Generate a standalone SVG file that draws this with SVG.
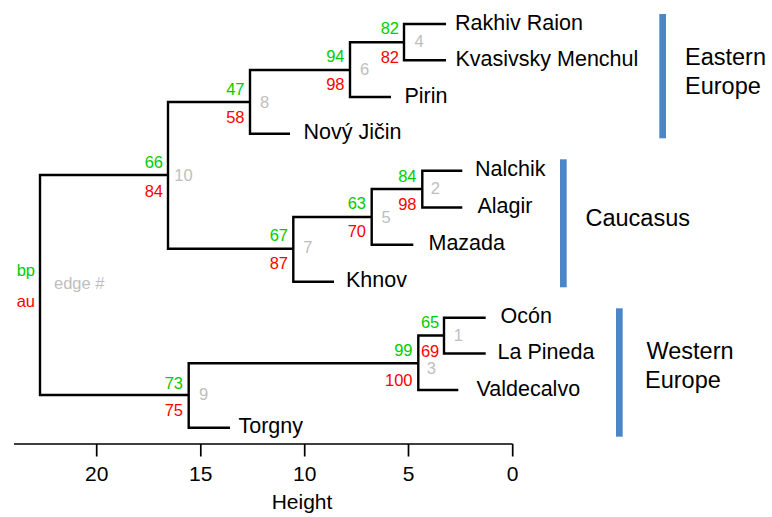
<svg xmlns="http://www.w3.org/2000/svg" width="772" height="517" viewBox="0 0 772 517">
<style>
text{font-family:"Liberation Sans",Arial,Helvetica,sans-serif}
.leaf{font-size:21.5px;fill:#000}
.grp{font-size:23.5px;fill:#000}
.bp{font-size:16.5px;fill:#00cd00;text-anchor:end}
.au{font-size:16.5px;fill:#ff0000;text-anchor:end}
.eg{font-size:16.5px;fill:#bebebe;text-anchor:middle}
.br{fill:none;stroke:#000;stroke-width:2.4;stroke-linejoin:miter;stroke-linecap:butt}
.ax{fill:none;stroke:#000;stroke-width:1.7}
.tk{font-size:21px;fill:#000;text-anchor:middle}
.bar{fill:#4b86c6}
</style>
<rect width="772" height="517" fill="#fff"/>
<g id="connectors">
<path class="br" d="M168,175 H40 V395 H188.7"/>
<path class="br" d="M250,102 H168 V248.7 H293.3"/>
<path class="br" d="M350,70 H250 V133.7 H290"/>
<path class="br" d="M404,42.2 H350 V97 H391"/>
<path class="br" d="M446,24 H404 V60.3 H446"/>
<path class="br" d="M371.7,217 H293.3 V281.7 H334"/>
<path class="br" d="M422.3,189 H371.7 V244.7 H413.3"/>
<path class="br" d="M462.3,170.7 H422.3 V207.5 H462.3"/>
<path class="br" d="M418.3,363.3 H188.7 V427.7 H230"/>
<path class="br" d="M444,335.5 H418.3 V390 H458.3"/>
<path class="br" d="M485.7,317.7 H444 V353.5 H485.7"/>
</g>
<g id="leaves">
<g id="leaf-rakhiv"><text class="leaf" x="455" y="29.5">Rakhiv Raion</text></g>
<g id="leaf-kvasivsky"><text class="leaf" x="455.5" y="65.8">Kvasivsky Menchul</text></g>
<g id="leaf-pirin"><text class="leaf" x="404.5" y="102.5">Pirin</text></g>
<g id="leaf-novy"><text class="leaf" x="303.5" y="139.2">Nový Jičin</text></g>
<g id="leaf-nalchik"><text class="leaf" x="475" y="176.2">Nalchik</text></g>
<g id="leaf-alagir"><text class="leaf" x="477.5" y="213">Alagir</text></g>
<g id="leaf-mazada"><text class="leaf" x="428.5" y="250.2">Mazada</text></g>
<g id="leaf-khnov"><text class="leaf" x="346" y="287.2">Khnov</text></g>
<g id="leaf-ocon"><text class="leaf" x="500.5" y="323.2">Ocón</text></g>
<g id="leaf-lapineda"><text class="leaf" x="497.5" y="359">La Pineda</text></g>
<g id="leaf-valdecalvo"><text class="leaf" x="476.5" y="395.5">Valdecalvo</text></g>
<g id="leaf-torgny"><text class="leaf" x="238.5" y="433.2">Torgny</text></g>
</g>
<g id="internal">
<g id="node-root"><text class="bp" x="35" y="276">bp</text><text class="au" x="35" y="306.5">au</text><text class="eg" x="81" y="289" style="text-anchor:start" transform="translate(-27,0)">edge #</text></g>
<g id="node-10"><text class="bp" x="163" y="168">66</text><text class="au" x="163" y="196.5">84</text><text class="eg" x="183.5" y="180.5">10</text></g>
<g id="node-8"><text class="bp" x="244.5" y="94.5">47</text><text class="au" x="244.5" y="122.5">58</text><text class="eg" x="264.5" y="107.5">8</text></g>
<g id="node-6"><text class="bp" x="344.5" y="62">94</text><text class="au" x="344.5" y="90">98</text><text class="eg" x="364.5" y="75">6</text></g>
<g id="node-4"><text class="bp" x="399" y="34.3">82</text><text class="au" x="399" y="63.3">82</text><text class="eg" x="419" y="46.8">4</text></g>
<g id="node-7"><text class="bp" x="288" y="241">67</text><text class="au" x="288" y="269.3">87</text><text class="eg" x="307.8" y="252.5">7</text></g>
<g id="node-5"><text class="bp" x="366" y="209.3">63</text><text class="au" x="366" y="237.3">70</text><text class="eg" x="386.2" y="222.7">5</text></g>
<g id="node-2"><text class="bp" x="416.5" y="182.3">84</text><text class="au" x="416.5" y="210">98</text><text class="eg" x="435.4" y="194.3">2</text></g>
<g id="node-9"><text class="bp" x="183" y="389.3">73</text><text class="au" x="183" y="416">75</text><text class="eg" x="203.5" y="400">9</text></g>
<g id="node-3"><text class="bp" x="412.5" y="356">99</text><text class="au" x="412.5" y="385.7">100</text><text class="eg" x="431.4" y="374">3</text></g>
<g id="node-1"><text class="bp" x="439.3" y="328.3">65</text><text class="au" x="439.3" y="356.7">69</text><text class="eg" x="458.4" y="340.7">1</text></g>
</g>
<g id="groups">
<g id="group-eastern"><rect class="bar" x="659.3" y="14" width="6.7" height="124.3"/><text class="grp" x="685" y="65">Eastern</text><text class="grp" x="685" y="94.3">Europe</text></g>
<g id="group-caucasus"><rect class="bar" x="560" y="159.3" width="6.7" height="128"/><text class="grp" x="585.5" y="225.5">Caucasus</text></g>
<g id="group-western"><rect class="bar" x="616" y="308.3" width="6.7" height="128.4"/><text class="grp" x="646.5" y="359.3">Western</text><text class="grp" x="645" y="388.3">Europe</text></g>
</g>
<g id="axis">
<path class="ax" d="M14,444 H512.7 M96.7,444 V456.5 M200.8,444 V456.5 M304.7,444 V456.5 M408.5,444 V456.5 M512.7,444 V456.5"/>
<text class="tk" x="96.7" y="481">20</text>
<text class="tk" x="200.8" y="481">15</text>
<text class="tk" x="304.7" y="481">10</text>
<text class="tk" x="408.5" y="481">5</text>
<text class="tk" x="512.7" y="481">0</text>
<text class="tk" x="302" y="508.5">Height</text>
</g>
</svg>
